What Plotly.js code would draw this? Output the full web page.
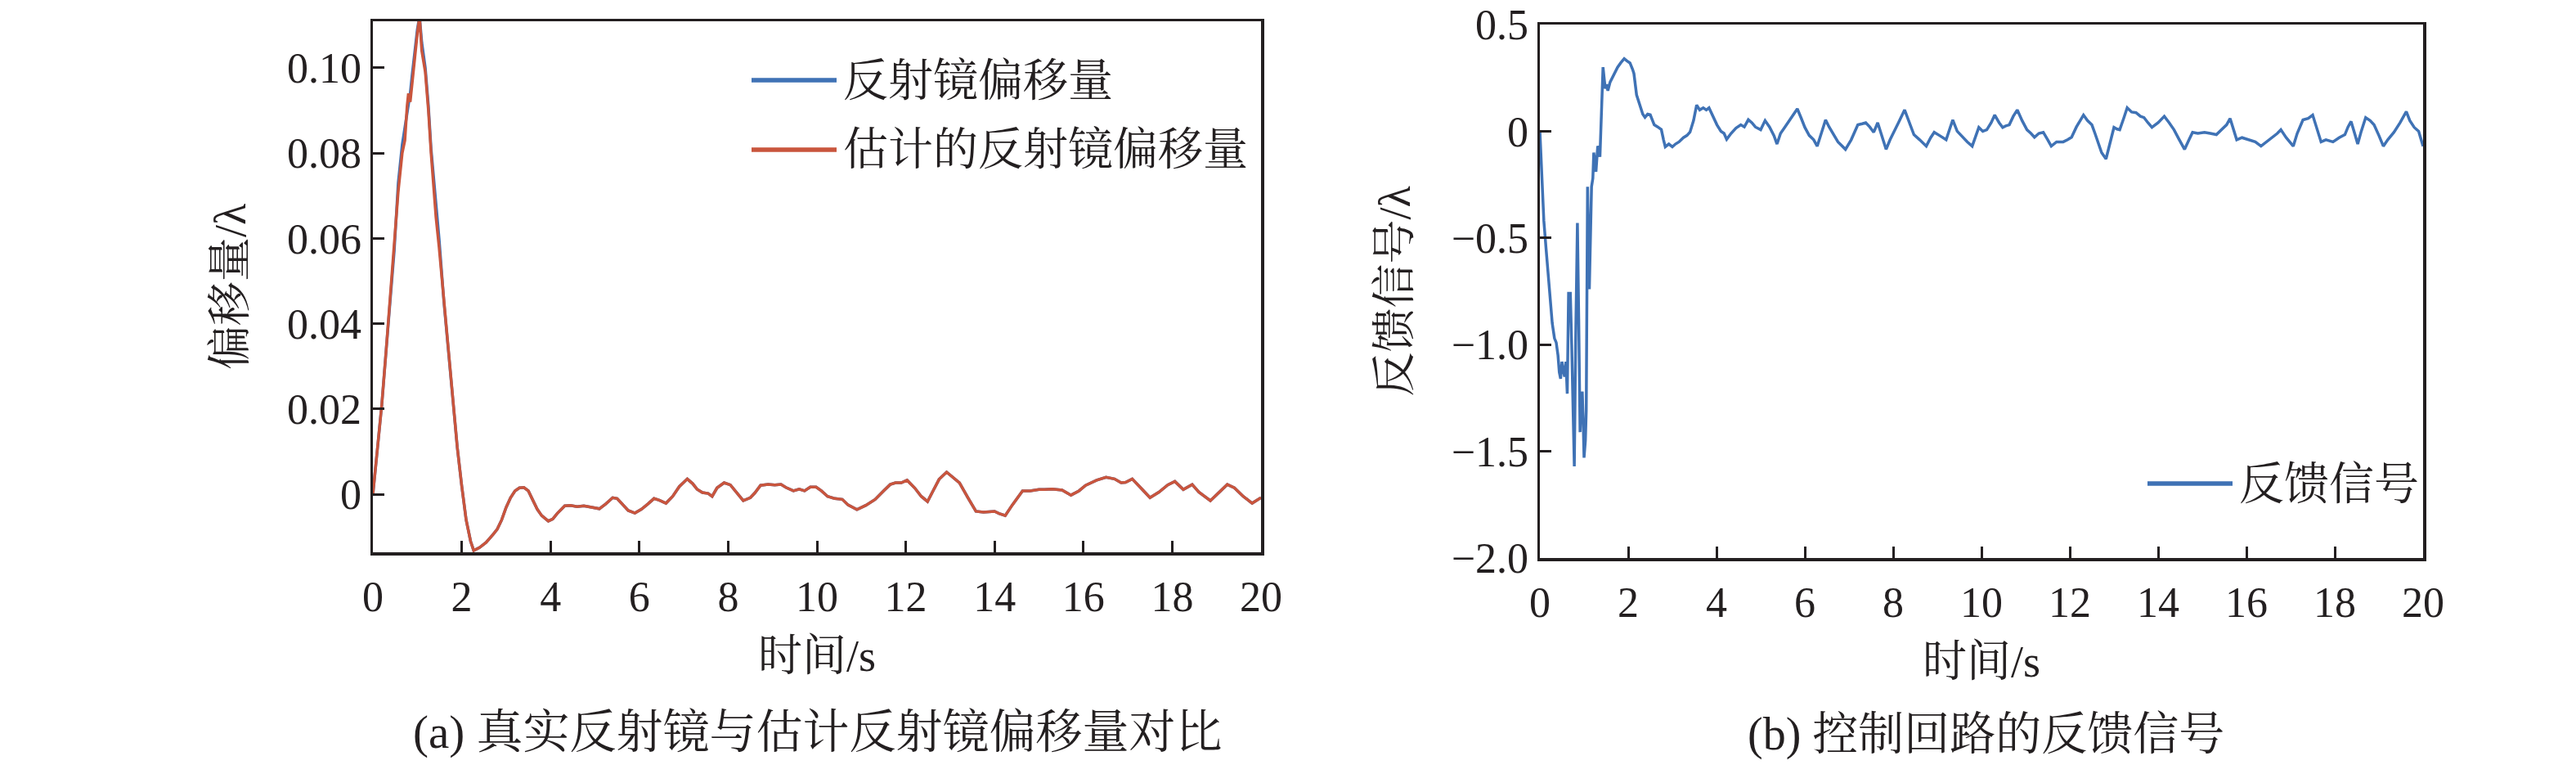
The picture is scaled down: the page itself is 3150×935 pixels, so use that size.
<!DOCTYPE html>
<html>
<head>
<meta charset="utf-8">
<script src="https://cdn.plot.ly/plotly-3.0.1.min.js"></script>
<style>
  html, body { margin: 0; padding: 0; background: #fff; }
  #chart { width: 3150px; height: 935px; }
</style>
</head>
<body>
<div id="chart"></div>
<script>
// (a) mirror offset, real vs estimated
const tMirror = [0, 0.1, 0.2, 0.3, 0.4, 0.48, 0.57, 0.66, 0.72, 0.77, 0.8, 0.84, 0.88, 0.94, 1.0, 1.05, 1.1, 1.18, 1.25, 1.31, 1.37, 1.42, 1.49, 1.6, 1.7, 1.81, 1.9, 2.0, 2.1, 2.2, 2.27, 2.4, 2.55, 2.7, 2.8, 2.9, 3.0, 3.1, 3.2, 3.3, 3.4, 3.5, 3.6, 3.7, 3.8, 3.95, 4.05, 4.15, 4.32, 4.45, 4.6, 4.75, 4.9, 5.1, 5.25, 5.4, 5.5, 5.6, 5.75, 5.9, 6.05, 6.2, 6.33, 6.45, 6.6, 6.75, 6.9, 7.08, 7.2, 7.3, 7.42, 7.55, 7.64, 7.75, 7.91, 8.05, 8.2, 8.34, 8.5, 8.6, 8.73, 8.9, 9.05, 9.19, 9.3, 9.47, 9.6, 9.72, 9.85, 9.98, 10.1, 10.24, 10.4, 10.57, 10.7, 10.9, 11.1, 11.31, 11.5, 11.65, 11.77, 11.9, 12.03, 12.2, 12.35, 12.49, 12.6, 12.75, 12.92, 13.05, 13.21, 13.4, 13.58, 13.75, 13.9, 14.0, 14.1, 14.24, 14.4, 14.63, 14.8, 15.0, 15.13, 15.3, 15.52, 15.72, 15.9, 16.05, 16.3, 16.51, 16.7, 16.85, 16.95, 17.1, 17.3, 17.5, 17.7, 17.9, 18.06, 18.25, 18.45, 18.6, 18.86, 19.05, 19.24, 19.4, 19.6, 19.8, 19.93, 20.0];

const realOffset = [0, 0.011, 0.021, 0.034, 0.047, 0.057, 0.073, 0.082, 0.086, 0.089, 0.091, 0.094, 0.098, 0.104, 0.109, 0.112, 0.106, 0.1, 0.091, 0.081, 0.074, 0.067, 0.06, 0.045, 0.034, 0.022, 0.011, 0.002, -0.006, -0.011, -0.0132, -0.0125, -0.0113, -0.0095, -0.0082, -0.006, -0.0031, -0.0008, 0.0008, 0.0015, 0.0016, 0.0008, -0.0015, -0.0035, -0.005, -0.0063, -0.0058, -0.0045, -0.0027, -0.0026, -0.0029, -0.0027, -0.003, -0.0034, -0.0022, -0.0008, -0.001, -0.0022, -0.0038, -0.0044, -0.0035, -0.0022, -0.001, -0.0014, -0.0021, -0.0005, 0.0018, 0.0036, 0.0025, 0.0012, 0.0004, 0.0002, -0.0005, 0.0015, 0.0027, 0.0022, 0.0002, -0.0015, -0.0008, 0.0003, 0.0021, 0.0023, 0.0022, 0.0023, 0.0016, 0.0008, 0.0012, 0.0008, 0.0017, 0.0017, 0.0008, -0.0005, -0.001, -0.0012, -0.0025, -0.0036, -0.0026, -0.0012, 0.0008, 0.0023, 0.0027, 0.0027, 0.0033, 0.0015, -0.0005, -0.0017, 0.0005, 0.0035, 0.0052, 0.004, 0.0027, -0.0008, -0.004, -0.0042, -0.004, -0.004, -0.0045, -0.005, -0.0025, 0.0008, 0.0008, 0.0011, 0.0011, 0.0012, 0.001, -0.0002, 0.0008, 0.0021, 0.0033, 0.004, 0.0036, 0.0027, 0.0028, 0.0036, 0.0014, -0.0008, 0.0005, 0.0022, 0.003, 0.0011, 0.0023, 0.0005, -0.0015, 0.0005, 0.0023, 0.0015, -0.0005, -0.0021, -0.0012, -0.0008];

const estOffset = [0, 0.011, 0.021, 0.034, 0.047, 0.058, 0.071, 0.08, 0.083, 0.091, 0.094, 0.092, 0.096, 0.103, 0.108, 0.112, 0.104, 0.099, 0.09, 0.08, 0.072, 0.065, 0.058, 0.045, 0.034, 0.022, 0.011, 0.002, -0.006, -0.011, -0.0132, -0.0125, -0.0113, -0.0095, -0.0082, -0.006, -0.0031, -0.0008, 0.0008, 0.0015, 0.0016, 0.0008, -0.0015, -0.0035, -0.005, -0.0063, -0.0058, -0.0045, -0.0027, -0.0026, -0.0029, -0.0027, -0.003, -0.0034, -0.0022, -0.0008, -0.001, -0.0022, -0.0038, -0.0044, -0.0035, -0.0022, -0.001, -0.0014, -0.0021, -0.0005, 0.0018, 0.0036, 0.0025, 0.0012, 0.0004, 0.0002, -0.0005, 0.0015, 0.0027, 0.0022, 0.0002, -0.0015, -0.0008, 0.0003, 0.0021, 0.0023, 0.0022, 0.0023, 0.0016, 0.0008, 0.0012, 0.0008, 0.0017, 0.0017, 0.0008, -0.0005, -0.001, -0.0012, -0.0025, -0.0036, -0.0026, -0.0012, 0.0008, 0.0023, 0.0027, 0.0027, 0.0033, 0.0015, -0.0005, -0.0017, 0.0005, 0.0035, 0.0052, 0.004, 0.0027, -0.0008, -0.004, -0.0042, -0.004, -0.004, -0.0045, -0.005, -0.0025, 0.0008, 0.0008, 0.0011, 0.0011, 0.0012, 0.001, -0.0002, 0.0008, 0.0021, 0.0033, 0.004, 0.0036, 0.0027, 0.0028, 0.0036, 0.0014, -0.0008, 0.0005, 0.0022, 0.003, 0.0011, 0.0023, 0.0005, -0.0015, 0.0005, 0.0023, 0.0015, -0.0005, -0.0021, -0.0012, -0.0008];

// (b) feedback signal of the control loop
const tFeedback = [0, 0.04, 0.09, 0.14, 0.19, 0.24, 0.28, 0.33, 0.37, 0.41, 0.44, 0.47, 0.5, 0.53, 0.56, 0.59, 0.62, 0.65, 0.69, 0.72, 0.74, 0.78, 0.81, 0.85, 0.88, 0.91, 0.94, 0.96, 0.98, 1.0, 1.03, 1.05, 1.08, 1.1, 1.12, 1.15, 1.17, 1.2, 1.22, 1.25, 1.27, 1.31, 1.34, 1.36, 1.39, 1.43, 1.46, 1.48, 1.51, 1.54, 1.59, 1.64, 1.7, 1.76, 1.83, 1.91, 1.97, 2.04, 2.1, 2.13, 2.19, 2.24, 2.28, 2.33, 2.38, 2.44, 2.5, 2.55, 2.59, 2.67, 2.75, 2.8, 2.84, 2.92, 3.0, 3.07, 3.15, 3.25, 3.33, 3.4, 3.48, 3.55, 3.62, 3.7, 3.77, 3.83, 3.92, 4.01, 4.1, 4.17, 4.23, 4.33, 4.44, 4.55, 4.63, 4.72, 4.8, 4.88, 5.0, 5.1, 5.2, 5.3, 5.37, 5.45, 5.55, 5.65, 5.75, 5.83, 5.92, 6.0, 6.1, 6.2, 6.28, 6.38, 6.47, 6.55, 6.65, 6.75, 6.85, 6.92, 7.05, 7.2, 7.3, 7.38, 7.47, 7.56, 7.65, 7.75, 7.84, 7.93, 8.02, 8.12, 8.26, 8.36, 8.47, 8.6, 8.75, 8.85, 8.93, 9.05, 9.2, 9.28, 9.35, 9.45, 9.57, 9.68, 9.79, 9.88, 9.94, 10.03, 10.12, 10.22, 10.3, 10.4, 10.48, 10.55, 10.63, 10.72, 10.81, 10.92, 11.03, 11.12, 11.2, 11.3, 11.4, 11.5, 11.58, 11.7, 11.85, 11.95, 12.04, 12.15, 12.31, 12.4, 12.5, 12.57, 12.64, 12.72, 12.82, 12.9, 13.0, 13.07, 13.13, 13.22, 13.3, 13.4, 13.5, 13.6, 13.68, 13.77, 13.86, 14.0, 14.14, 14.25, 14.36, 14.48, 14.6, 14.7, 14.78, 14.9, 15.05, 15.18, 15.32, 15.45, 15.55, 15.63, 15.7, 15.78, 15.9, 16.05, 16.2, 16.33, 16.45, 16.6, 16.7, 16.78, 16.9, 17.06, 17.15, 17.28, 17.4, 17.5, 17.6, 17.69, 17.8, 17.96, 18.1, 18.23, 18.3, 18.37, 18.45, 18.52, 18.6, 18.7, 18.8, 18.89, 19.0, 19.1, 19.2, 19.34, 19.48, 19.62, 19.7, 19.8, 19.9, 20.0];

const feedback = [0.0, -0.2, -0.42, -0.55, -0.67, -0.8, -0.9, -0.97, -0.99, -1.05, -1.13, -1.16, -1.08, -1.12, -1.15, -1.08, -1.23, -0.76, -0.76, -1.0, -1.22, -1.57, -0.99, -0.43, -0.88, -1.41, -1.25, -1.22, -1.35, -1.53, -1.45, -1.31, -0.26, -0.5, -0.74, -0.45, -0.26, -0.22, -0.1, -0.15, -0.19, -0.07, -0.08, -0.12, 0.04, 0.3, 0.24, 0.2, 0.22, 0.19, 0.23, 0.25, 0.27, 0.3, 0.32, 0.34, 0.33, 0.32, 0.29, 0.27, 0.17, 0.14, 0.11, 0.08, 0.065, 0.08, 0.077, 0.05, 0.03, 0.02, 0.008, -0.04, -0.073, -0.06, -0.073, -0.06, -0.05, -0.03, -0.02, -0.004, 0.05, 0.123, 0.1, 0.11, 0.1, 0.11, 0.07, 0.03, 0.0, -0.01, -0.038, -0.01, 0.015, 0.03, 0.02, 0.054, 0.04, 0.02, 0.007, 0.05, 0.02, -0.02, -0.06, -0.01, 0.02, 0.05, 0.08, 0.105, 0.06, 0.018, -0.02, -0.04, -0.07, 0.0, 0.053, 0.02, -0.016, -0.05, -0.07, -0.085, -0.04, 0.03, 0.035, 0.04, 0.02, -0.005, 0.04, -0.03, -0.085, -0.04, -0.005, 0.04, 0.1, 0.04, -0.016, -0.04, -0.07, -0.03, -0.005, -0.02, -0.04, 0.01, 0.053, 0.0, -0.028, -0.05, -0.07, -0.02, 0.018, 0.0, 0.007, 0.04, 0.076, 0.04, 0.018, 0.025, 0.03, 0.07, 0.1, 0.05, 0.007, -0.01, -0.028, -0.01, -0.005, -0.04, -0.07, -0.05, -0.05, -0.04, -0.028, 0.02, 0.076, 0.05, 0.03, -0.01, -0.05, -0.1, -0.13, -0.06, 0.018, 0.01, 0.007, 0.06, 0.11, 0.09, 0.087, 0.07, 0.064, 0.04, 0.018, 0.04, 0.07, 0.04, 0.007, -0.04, -0.085, -0.04, -0.005, -0.01, -0.005, -0.01, -0.016, 0.01, 0.03, 0.06, 0.01, -0.04, -0.03, -0.04, -0.05, -0.07, -0.05, -0.028, -0.01, 0.007, -0.03, -0.07, -0.01, 0.053, 0.06, 0.076, 0.01, -0.05, -0.04, -0.05, -0.03, -0.016, 0.02, 0.046, -0.01, -0.06, 0.0, 0.064, 0.05, 0.03, -0.02, -0.07, -0.04, -0.005, 0.04, 0.092, 0.05, 0.018, 0.0, -0.07];

const ticksA = [0, 0.02, 0.04, 0.06, 0.08, 0.10];
const tickTextA = ['0', '0.02', '0.04', '0.06', '0.08', '0.10'];
const ticksB = [-2.0, -1.5, -1.0, -0.5, 0, 0.5];
const tickTextB = ['\u22122.0', '\u22121.5', '\u22121.0', '\u22120.5', '0', '0.5'];

const BLUE = '#3f72b5';
const RED = '#c9553d';
const INK = '#231f20';
const FONT = "'Liberation Serif', 'Noto Serif CJK SC', 'Noto Sans CJK SC', serif";
const W = 3150, H = 935;

// pixel helpers for paper coordinates
const px = x => x / W;
const py = y => 1 - y / H;

const axisBase = {
  showline: true,
  mirror: true,
  linecolor: INK,
  linewidth: 3.5,
  ticks: 'inside',
  ticklen: 14,
  tickwidth: 3,
  tickcolor: INK,
  showgrid: false,
  zeroline: false,
  tickfont: { family: FONT, size: 52, color: INK },
  fixedrange: true
};

const data = [
  {
    type: 'scatter', mode: 'lines', x: tMirror, y: realOffset,
    xaxis: 'x', yaxis: 'y', name: '反射镜偏移量',
    line: { color: BLUE, width: 3.5 }, showlegend: false
  },
  {
    type: 'scatter', mode: 'lines', x: tMirror, y: estOffset,
    xaxis: 'x', yaxis: 'y', name: '估计的反射镜偏移量',
    line: { color: RED, width: 3.5 }, showlegend: false
  },
  {
    type: 'scatter', mode: 'lines', x: tFeedback, y: feedback,
    xaxis: 'x2', yaxis: 'y2', name: '反馈信号',
    line: { color: BLUE, width: 3.5 }, showlegend: false
  }
];

const textFont = { family: FONT, size: 54, color: INK };

const legendItem = (x0, y, label) => ([
  { type: 'line', xref: 'paper', yref: 'paper', x0: px(x0), x1: px(x0 + 104), y0: py(y), y1: py(y),
    line: { color: label.color, width: 5.5 } },
  { xref: 'paper', yref: 'paper', x: px(x0 + 110), y: py(y), xanchor: 'left', yanchor: 'middle',
    text: label.text, showarrow: false, font: { family: FONT, size: 55, color: INK } }
]);

const legA1 = legendItem(919, 98, { color: BLUE, text: '反射镜偏移量' });
const legA2 = legendItem(919, 183, { color: RED, text: '估计的反射镜偏移量' });
const legB1 = legendItem(2626, 591, { color: BLUE, text: '反馈信号' });

const layout = {
  width: W,
  height: H,
  margin: { l: 0, r: 0, t: 0, b: 0 },
  paper_bgcolor: '#fff',
  plot_bgcolor: '#fff',
  showlegend: false,
  xaxis: Object.assign({}, axisBase, {
    domain: [px(456), px(1542)], range: [0, 20], dtick: 2, anchor: 'y',
    ticklabelstandoff: 6,
    title: { text: '时间/s', font: textFont, standoff: 26 }
  }),
  yaxis: Object.assign({}, axisBase, {
    domain: [py(675), py(26)], range: [-0.0136, 0.1109], anchor: 'x',
    tickvals: ticksA, ticktext: tickTextA,
    title: { text: '偏移量/λ', font: textFont, standoff: 34 }
  }),
  xaxis2: Object.assign({}, axisBase, {
    domain: [px(1883), px(2963)], range: [0, 20], dtick: 2, anchor: 'y2',
    ticklabelstandoff: 6,
    title: { text: '时间/s', font: textFont, standoff: 26 }
  }),
  yaxis2: Object.assign({}, axisBase, {
    domain: [py(682), py(30)], range: [-2, 0.5], anchor: 'x2',
    tickvals: ticksB, ticktext: tickTextB,
    title: { text: '反馈信号/λ', font: textFont, standoff: 34 }
  }),
  shapes: [legA1[0], legA2[0], legB1[0]],
  annotations: [
    legA1[1], legA2[1], legB1[1],
    { xref: 'paper', yref: 'paper', x: px(1000), y: py(895), xanchor: 'center', yanchor: 'middle',
      text: '(a) 真实反射镜与估计反射镜偏移量对比', showarrow: false,
      font: { family: FONT, size: 57, color: INK } },
    { xref: 'paper', yref: 'paper', x: px(2428), y: py(897), xanchor: 'center', yanchor: 'middle',
      text: '(b) 控制回路的反馈信号', showarrow: false,
      font: { family: FONT, size: 56, color: INK } }
  ]
};

Plotly.newPlot('chart', data, layout, { displayModeBar: false, staticPlot: true });
</script>
</body>
</html>
